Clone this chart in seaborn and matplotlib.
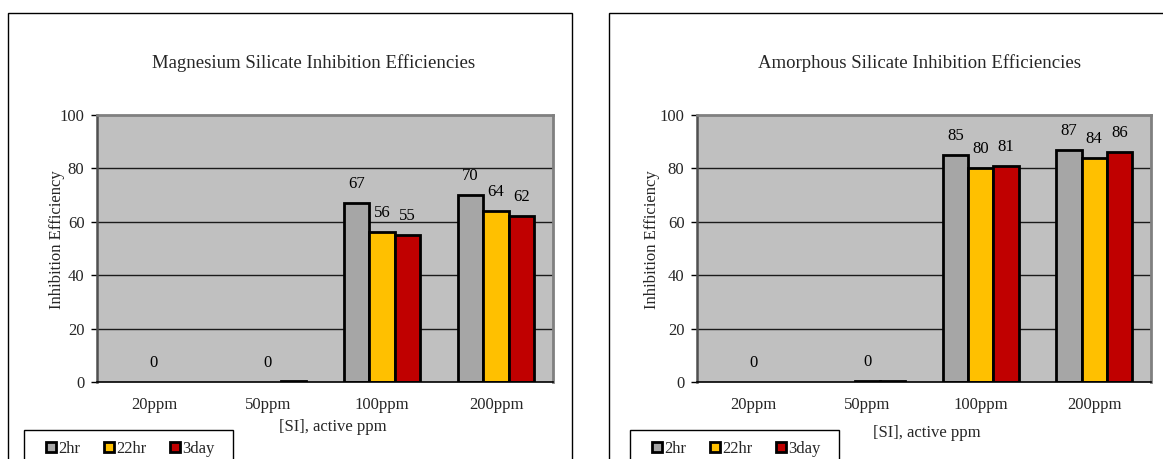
import numpy as np
import pandas as pd
import matplotlib
matplotlib.use("Agg")
import matplotlib.pyplot as plt
from matplotlib.patches import Patch, Rectangle
import seaborn as sns

# ---- data -------------------------------------------------------------
concentrations = ["20ppm", "50ppm", "100ppm", "200ppm"]
series_names = ["2hr", "22hr", "3day"]
series_colors = ["#A6A6A6", "#FFC000", "#C00000"]

mag_2hr = [np.nan, np.nan, 67, 70]
mag_22hr = [0, 0, 56, 64]
mag_3day = [np.nan, 0.3, 55, 62]

amo_2hr = [np.nan, np.nan, 85, 87]
amo_22hr = [0, 0.3, 80, 84]
amo_3day = [np.nan, 0.3, 81, 86]

titles = ["Magnesium Silicate Inhibition Efficiencies",
          "Amorphous Silicate Inhibition Efficiencies"]
y_label = "Inhibition Efficiency"
x_label = "[SI], active ppm"
y_ticks = [0, 20, 40, 60, 80, 100]


def long_frame(a, b, c):
    rows = []
    for name, vals in zip(series_names, [a, b, c]):
        for conc, v in zip(concentrations, vals):
            rows.append({"conc": conc, "series": name, "value": v})
    return pd.DataFrame(rows)


panels = [long_frame(mag_2hr, mag_22hr, mag_3day),
          long_frame(amo_2hr, amo_22hr, amo_3day)]

# ---- style ------------------------------------------------------------
sns.set_style("white")
plt.rcParams["font.family"] = ["Liberation Serif", "DejaVu Serif"]
FS = 12
TITLE_FS = 13.5

W, H = 1163, 459
fig = plt.figure(figsize=(W / 100, H / 100), dpi=100)


def fx(px):
    return px / W


def fy(py):
    return 1 - py / H


def frame_box(x0, y0, x1, y1, lw=1.0):
    fig.patches.append(Rectangle((fx(x0), fy(y1)), fx(x1) - fx(x0), fy(y0) - fy(y1),
                                 transform=fig.transFigure, fill=False,
                                 edgecolor="black", linewidth=lw, zorder=0))


# outer chart frames
frame_box(8, 13, 572, 480)
frame_box(609, 13, 1180, 480)

layout = [
    dict(ax=(97, 553), title_x=314, ylab_x=57, xlab=(333, 427), leg=(24, 233)),
    dict(ax=(697, 1151), title_x=920, ylab_x=652, xlab=(927, 433), leg=(630, 839)),
]
top_px, bot_px = 115, 382

for df, title, lay in zip(panels, titles, layout):
    x0, x1 = lay["ax"]
    ax = fig.add_axes([fx(x0), fy(bot_px), fx(x1) - fx(x0), fy(top_px) - fy(bot_px)])
    ax.set_facecolor("#C0C0C0")

    for yv in y_ticks[1:-1]:
        ax.axhline(yv, color="#1a1a1a", linewidth=1.0, zorder=0.5)

    sns.barplot(data=df, x="conc", y="value", hue="series",
                order=concentrations, hue_order=series_names,
                palette=series_colors, saturation=1, width=0.67,
                errorbar=None, edgecolor="black", linewidth=2.0,
                legend=False, ax=ax, zorder=2)

    # zero-height bars leave no stroke
    for p in ax.patches:
        if p.get_height() == 0:
            p.set_linewidth(0)

    for name, cont in zip(series_names, ax.containers):
        labs = []
        for v in cont.datavalues:
            if np.isnan(v):
                labs.append("")
            elif v >= 1 or name == "22hr":
                labs.append(f"{v:.0f}")
            else:
                labs.append("")
        ax.bar_label(cont, labels=labs, padding=8, fontsize=FS, color="black")

    ax.set_ylim(0, 100)
    ax.set_xlim(-0.5, 3.5)
    ax.set_yticks(y_ticks)
    ax.set_yticklabels([str(t) for t in y_ticks], fontsize=FS)
    ax.set_xticks(range(len(concentrations)))
    ax.set_xticklabels(concentrations, fontsize=FS)
    ax.set_xticks(np.arange(-0.5, 4.0, 1.0), minor=True)
    ax.tick_params(axis="x", which="major", length=0, pad=10.5)
    ax.tick_params(axis="x", which="minor", length=5, width=1, color="black",
                   direction="out")
    ax.tick_params(axis="y", length=4, width=1, color="black", direction="out",
                   pad=5, left=True)
    ax.set_xlabel("")
    ax.set_ylabel("")
    ax.grid(False)

    ax.spines["bottom"].set_color("black")
    ax.spines["bottom"].set_linewidth(1.2)
    ax.spines["left"].set_color("#505050")
    ax.spines["left"].set_linewidth(1.8)
    for side in ["top", "right"]:
        ax.spines[side].set_visible(True)
        ax.spines[side].set_color("#808080")
        ax.spines[side].set_linewidth(2.0)
    for s in ax.spines.values():
        s.set_zorder(3)

    fig.text(fx(lay["title_x"]), fy(63), title, ha="center", va="center",
             fontsize=TITLE_FS)
    fig.text(fx(lay["ylab_x"]), fy(240), y_label, ha="center", va="center",
             rotation=90, fontsize=FS)
    fig.text(fx(lay["xlab"][0]), fy(lay["xlab"][1]), x_label, ha="center",
             va="center", fontsize=FS)

    # legend: box plus centred entries
    lx0, lx1 = lay["leg"]
    frame_box(lx0, 430, lx1, 480)
    handles = [Patch(facecolor=c, edgecolor="black", linewidth=2.0, label=n)
               for n, c in zip(series_names, series_colors)]
    fig.legend(handles=handles, loc="center",
               bbox_to_anchor=(fx((lx0 + lx1) / 2 + 2), fy(449)), ncol=3,
               fontsize=FS, frameon=False, handlelength=0.6,
               handleheight=0.6, handletextpad=0.15, columnspacing=1.4,
               borderaxespad=0, borderpad=0)

fig.savefig("out.png", dpi=100)
